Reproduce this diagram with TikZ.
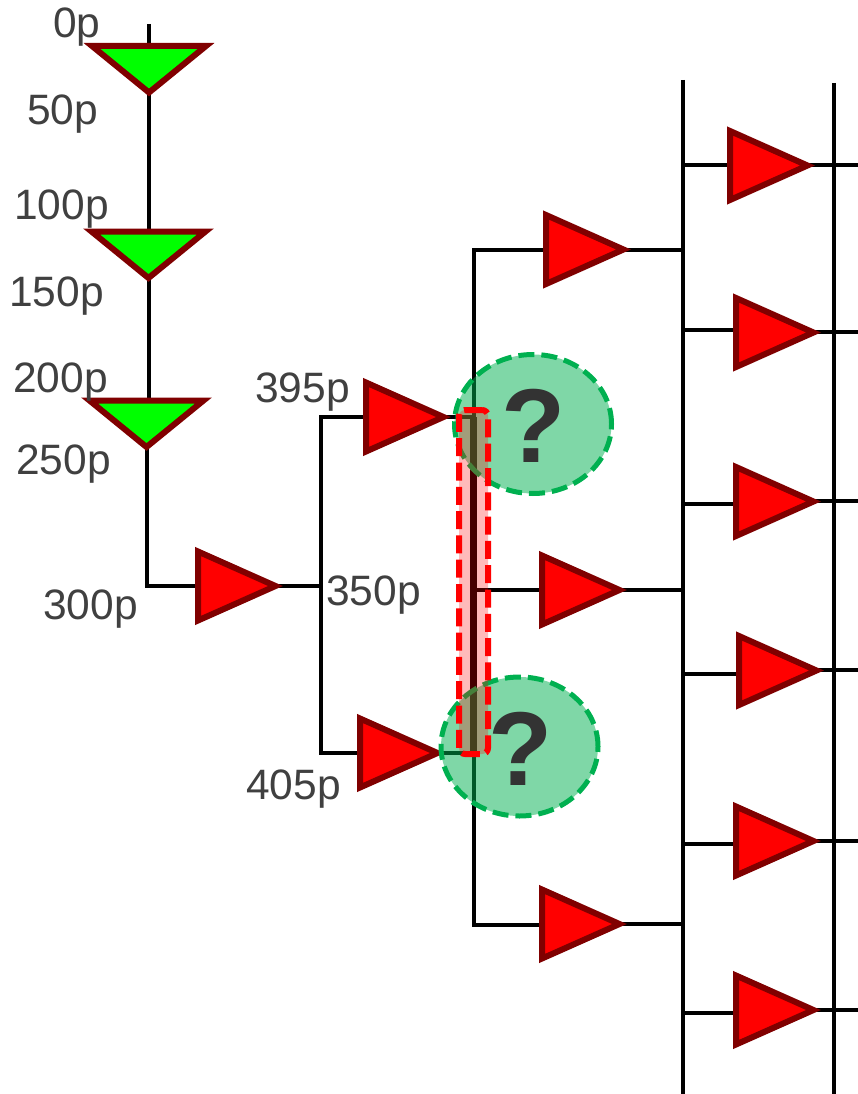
\documentclass[tikz,border=0pt]{standalone}
\usepackage{fontspec}
\setmainfont{Liberation Sans}
\usetikzlibrary{shapes.geometric,backgrounds}
\definecolor{labelgray}{HTML}{404040}
\definecolor{markgray}{HTML}{333333}
\definecolor{okgreen}{HTML}{00B050}
\definecolor{darkborder}{HTML}{800000}
\tikzset{
  x=1pt,y=-1pt,
  tri/.style={isosceles triangle,isosceles triangle stretches,inner sep=0pt,outer sep=0pt,line width=6pt,draw=darkborder,miter limit=10},
  redbuf/.style={tri,fill=red,minimum width=69pt,minimum height=77.5pt,anchor=lower side},
  greenbuf/.style={tri,fill=green,shape border rotate=-90,minimum width=114pt,minimum height=46.5pt,anchor=lower side},
  wire/.style={draw=black,line width=4pt,line cap=butt},
  lbl/.style={font=\fontsize{42.5}{42.5}\selectfont,text=labelgray,anchor=base west,inner sep=0pt},
  qbubble/.style={ellipse,draw=okgreen,line width=5pt,dash pattern=on 16pt off 7pt,fill=okgreen,fill opacity=.5,draw opacity=1,inner sep=0pt,minimum width=157pt,minimum height=139pt},
  qmark/.style={font=\fontsize{105}{105}\selectfont\bfseries,text=markgray,inner sep=0pt},
  skewbox/.style={rectangle,rounded corners=6pt,draw=red,line width=6pt,dash pattern=on 18pt off 6.3pt,fill=red,fill opacity=.27,draw opacity=1,inner sep=0pt,minimum width=29pt,minimum height=344pt}
}
\begin{document}
\begin{tikzpicture}
\useasboundingbox (0,0) rectangle (858,1094);
% buffers
\node[greenbuf] (g1) at (149,46) {};
\node[greenbuf] (g2) at (148.5,231.5) {};
\node[greenbuf] (g3) at (146.5,400.5) {};
\node[redbuf] (r0) at (198,586) {};
\node[redbuf] (a1) at (366,417) {};
\node[redbuf] (a2) at (360,753) {};
\node[redbuf] (b1) at (546,249.5) {};
\node[redbuf] (b2) at (542,590) {};
\node[redbuf] (b3) at (542,924) {};
\node[redbuf] (c1) at (730,165.5) {};
\node[redbuf] (c2) at (736,332.5) {};
\node[redbuf] (c3) at (736,501.5) {};
\node[redbuf] (c4) at (739,670.5) {};
\node[redbuf] (c5) at (736,841) {};
\node[redbuf] (c6) at (736,1010) {};
% free ends and junctions
\coordinate (top) at (149,24);
\coordinate (j0) at (146.5,586);
\coordinate (s1t) at (321,417);
\coordinate (s1b) at (321,753);
\coordinate (s1m) at (321,586);
\coordinate (s2t) at (474,250);
\coordinate (s2b) at (474,925);
\coordinate (s2a) at (474,417);
\coordinate (s2c) at (474,590);
\coordinate (s2d) at (474,753);
\coordinate (hot1) at (473.5,417);
\coordinate (hot2) at (473.5,753);
\coordinate (v1t) at (683,80);
\coordinate (v1b) at (683,1094);
\coordinate (v2t) at (834,83);
\coordinate (v2b) at (834,1094);
\coordinate (m1) at (683,250);
\coordinate (m2) at (683,590);
\coordinate (m3) at (683,924);
\coordinate (i1) at (683,165);
\coordinate (i2) at (683,330);
\coordinate (i3) at (683,504);
\coordinate (i4) at (683,674);
\coordinate (i5) at (683,844);
\coordinate (i6) at (683,1013);
\coordinate (o1) at (858,165);
\coordinate (o2) at (858,332);
\coordinate (o3) at (858,501);
\coordinate (o4) at (858,670);
\coordinate (o5) at (858,841);
\coordinate (o6) at (858,1010);
\begin{scope}[on background layer]
\draw[wire] (top) -- (g1.lower side);
\draw[wire] (g1.apex) -- (g1.apex |- g2.lower side);
\draw[wire] (g2.apex) -- (g2.apex |- g3.lower side);
\draw[wire] (g3.apex) -- (j0) -- (r0.lower side);
\draw[wire] (r0.apex) -- (s1m);
\draw[wire] (a1.lower side) -- (s1t) -- (s1b) -- (a2.lower side);
\draw[wire] (b1.lower side |- s2t) -- (s2t) -- (s2b) -- (b3.lower side |- s2b);
\draw[wire] (a1.apex) -- (s2a);
\draw[wire] (a2.apex) -- (s2d);
\draw[wire] (s2c) -- (b2.lower side);
\draw[wire] (b1.apex |- m1) -- (m1);
\draw[wire] (b2.apex) -- (m2);
\draw[wire] (b3.apex) -- (m3);
\draw[wire] (v1t) -- (v1b);
\draw[wire] (v2t) -- (v2b);
\draw[wire] (i1) -- (c1.lower side |- i1);
\draw[wire] (i2) -- (c2.lower side |- i2);
\draw[wire] (i3) -- (c3.lower side |- i3);
\draw[wire] (i4) -- (c4.lower side |- i4);
\draw[wire] (i5) -- (c5.lower side |- i5);
\draw[wire] (i6) -- (c6.lower side |- i6);
\draw[wire] (c1.apex |- o1) -- (o1);
\draw[wire] (c2.apex |- o2) -- (o2);
\draw[wire] (c3.apex |- o3) -- (o3);
\draw[wire] (c4.apex |- o4) -- (o4);
\draw[wire] (c5.apex) -- (o5);
\draw[wire] (c6.apex) -- (o6);
\draw[draw=black,line width=6.5pt] (hot1) -- (hot2);
\end{scope}
% labels
\node[lbl] (t0) at (53,38) {0p};
\node[lbl] (t50) at (27,125) {50p};
\node[lbl] (t100) at (14,219) {100p};
\node[lbl] (t150) at (9,306) {150p};
\node[lbl] (t200) at (13,392) {200p};
\node[lbl] (t250) at (16,474) {250p};
\node[lbl] (t300) at (43,619) {300p};
\node[lbl] (t395) at (255,402) {395p};
\node[lbl] (t350) at (326,605) {350p};
\node[lbl] (t405) at (246,799) {405p};
% skew bubbles
\node[qbubble] (q1) at (533,424) {};
\node[qbubble] (q2) at (519.5,746.5) {};
\node[qmark] (qm1) at (534,426) {?};
\node[qmark] (qm2) at (521,748.5) {?};
\node[skewbox] (skew) at (473.5,582) {};
\end{tikzpicture}
\end{document}
